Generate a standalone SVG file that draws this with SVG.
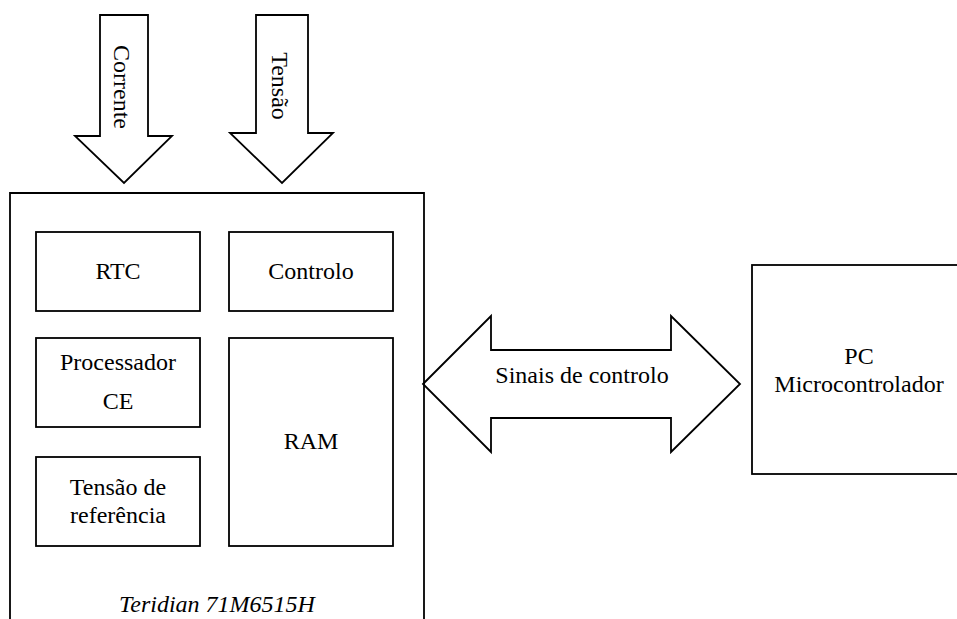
<svg xmlns="http://www.w3.org/2000/svg" width="957" height="619" viewBox="0 0 957 619">
<style>
  .sh { fill: #ffffff; stroke: #000000; stroke-width: 1.8; }
  .ln { fill: none; stroke: #000000; stroke-width: 1.8; }
  text { font-family: "Times New Roman", "Liberation Serif", "DejaVu Serif", Times, serif; font-size: 24px; fill: #000000; text-anchor: middle; }
  .it { font-style: italic; }
</style>
<rect x="0" y="0" width="957" height="619" fill="#ffffff"/>
<g id="connectors">
  <g id="arrow-corrente">
    <polygon class="sh" points="100,15 148,15 148,136 172,136 124,183 75,136 100,136"/>
    <text transform="translate(114,87) rotate(90)" x="0" y="0">Corrente</text>
  </g>
  <g id="arrow-tensao">
    <polygon class="sh" points="256,15 308,15 308,133 333,133 282,183 230,133 256,133"/>
    <text transform="translate(272,86) rotate(90)" x="0" y="0">Tensão</text>
  </g>
  <g id="arrow-sinais">
    <polygon class="sh" points="423,384 491,316 491,350 671,350 671,316 740,384 671,452 671,418 491,418 491,452"/>
    <text x="582" y="383">Sinais de controlo</text>
  </g>
</g>
<g id="teridian">
  <path class="ln" d="M10,619 V193 H424 V619"/>
  <text class="it" x="217" y="612">Teridian 71M6515H</text>
</g>
<g id="rtc">
  <rect class="sh" x="36" y="232" width="164" height="79"/>
  <text x="118" y="279">RTC</text>
</g>
<g id="controlo">
  <rect class="sh" x="229" y="232" width="164" height="79"/>
  <text x="311" y="279">Controlo</text>
</g>
<g id="processador">
  <rect class="sh" x="36" y="338" width="164" height="89"/>
  <text x="118" y="370">Processador</text>
  <text x="118" y="409">CE</text>
</g>
<g id="ram">
  <rect class="sh" x="229" y="338" width="164" height="208"/>
  <text x="311" y="449">RAM</text>
</g>
<g id="tensao-ref">
  <rect class="sh" x="36" y="457" width="164" height="89"/>
  <text x="118" y="495">Tensão de</text>
  <text x="118" y="523">referência</text>
</g>
<g id="pc">
  <rect class="sh" x="752" y="265" width="260" height="209"/>
  <text x="859" y="364">PC</text>
  <text x="859" y="392">Microcontrolador</text>
</g>
</svg>
